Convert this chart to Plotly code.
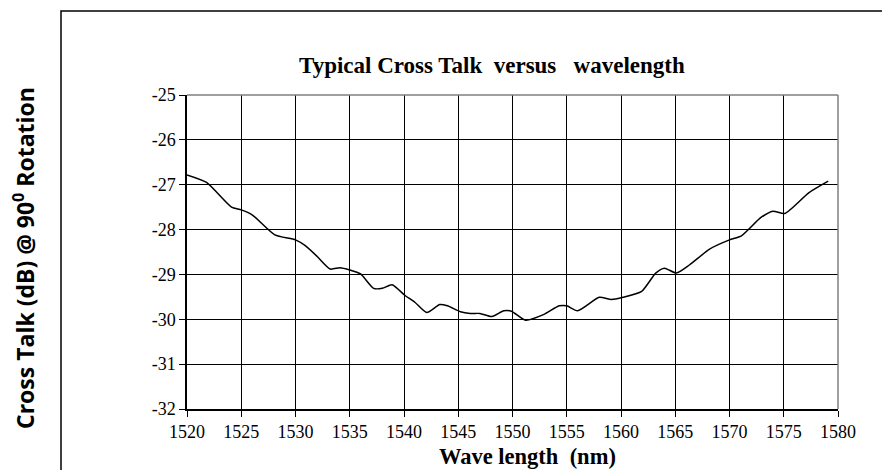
import plotly.graph_objects as go

wavelength_nm = [1520, 1521.8, 1524.1, 1525, 1526, 1528.1, 1530, 1530.9, 1532, 1533.2, 1534.1,
                 1535, 1536, 1537.2, 1538, 1538.9, 1540.1, 1541, 1542.1, 1543.3, 1544, 1545.2,
                 1546.1, 1547, 1548.1, 1549.2, 1549.9, 1551.2, 1552.9, 1554.3, 1555, 1556,
                 1558, 1559.1, 1560.2, 1561.9, 1563.2, 1564, 1565.1, 1566.3, 1568.2, 1570,
                 1571.1, 1572.9, 1574, 1575.1, 1577.3, 1579.1]
cross_talk_db = [-26.78, -26.95, -27.50, -27.56, -27.67, -28.12, -28.23, -28.36, -28.60, -28.88, -28.85,
                 -28.90, -28.99, -29.31, -29.31, -29.23, -29.47, -29.62, -29.85, -29.67, -29.70, -29.83,
                 -29.87, -29.87, -29.94, -29.81, -29.82, -30.02, -29.89, -29.70, -29.70, -29.81,
                 -29.51, -29.56, -29.51, -29.38, -28.97, -28.86, -28.97, -28.79, -28.43, -28.23,
                 -28.14, -27.73, -27.59, -27.64, -27.18, -26.92]

x_ticks = [1520, 1525, 1530, 1535, 1540, 1545, 1550, 1555, 1560, 1565, 1570, 1575, 1580]
y_ticks = [-32, -31, -30, -29, -28, -27, -26, -25]

title_text = "Typical Cross Talk\u00a0 versus\u00a0\u00a0 wavelength"
x_title = "Wave length\u00a0 (nm)"
y_title = "Cross Talk (dB) @ 90<sup>0</sup> Rotation"

# page offset (browser body margin)
OFF = 8
W, H = 890 - OFF, 470 - OFF
pl, pr, pt, pb = 179, 830, 87, 401
pw, ph = pr - pl, pb - pt


def px(x):
    return (x - OFF - pl) / pw


def py(y):
    return (pb - (y - OFF)) / ph


fig = go.Figure()
fig.add_trace(go.Scatter(x=wavelength_nm, y=cross_talk_db, mode="lines",
                         line=dict(color="black", width=1.5, shape="spline", smoothing=0.6),
                         hoverinfo="x+y", showlegend=False))

serif = "Liberation Serif, Times New Roman, serif"
fig.update_layout(
    width=W, height=H,
    margin=dict(l=pl, r=W - pr, t=pt, b=H - pb),
    paper_bgcolor="white", plot_bgcolor="white",
    showlegend=False,
    xaxis=dict(range=[1520, 1580], tickvals=x_ticks, ticktext=[str(v) for v in x_ticks],
               showgrid=True, gridcolor="black", gridwidth=1.2,
               showline=True, linecolor="black", linewidth=1.5,
               ticks="outside", ticklen=6, tickcolor="black", tickwidth=1.2,
               tickfont=dict(family=serif, size=18, color="black"), zeroline=False),
    yaxis=dict(range=[-32, -25], tickvals=y_ticks, ticktext=[str(v) for v in y_ticks],
               showgrid=True, gridcolor="black", gridwidth=1.2,
               showline=True, linecolor="black", linewidth=1.5,
               ticks="outside", ticklen=6, tickcolor="black", tickwidth=1.2,
               tickfont=dict(family=serif, size=18, color="black"), zeroline=False),
    annotations=[
        dict(text="<b>" + title_text + "</b>", x=px(491.5), y=py(66), xref="paper", yref="paper",
             xanchor="center", yanchor="middle", showarrow=False,
             font=dict(family=serif, size=23, color="black")),
        dict(text="<b>" + x_title + "</b>", x=px(527), y=py(456), xref="paper", yref="paper",
             xanchor="center", yanchor="middle", showarrow=False,
             font=dict(family=serif, size=22.5, color="black")),
        dict(text="<b>" + y_title + "</b>", x=px(24), y=py(258), xref="paper", yref="paper",
             xanchor="center", yanchor="middle", textangle=-90, showarrow=False,
             font=dict(family="Open Sans, sans-serif", size=23, color="black")),
    ],
)

# outer chart border (extends past right/bottom of the image)
fig.add_shape(type="rect", xref="paper", yref="paper",
              x0=px(61), x1=px(900), y0=py(480), y1=py(11),
              line=dict(color="black", width=1.5), fillcolor="rgba(0,0,0,0)", layer="below")
# grey top and right frame of the plot area
fig.add_shape(type="line", xref="paper", yref="paper", x0=0, x1=1, y0=1, y1=1,
              line=dict(color="#7f7f7f", width=1.5), layer="above")
fig.add_shape(type="line", xref="paper", yref="paper", x0=1, x1=1, y0=0, y1=1,
              line=dict(color="#7f7f7f", width=1.5), layer="above")

fig.write_html("out.html")
